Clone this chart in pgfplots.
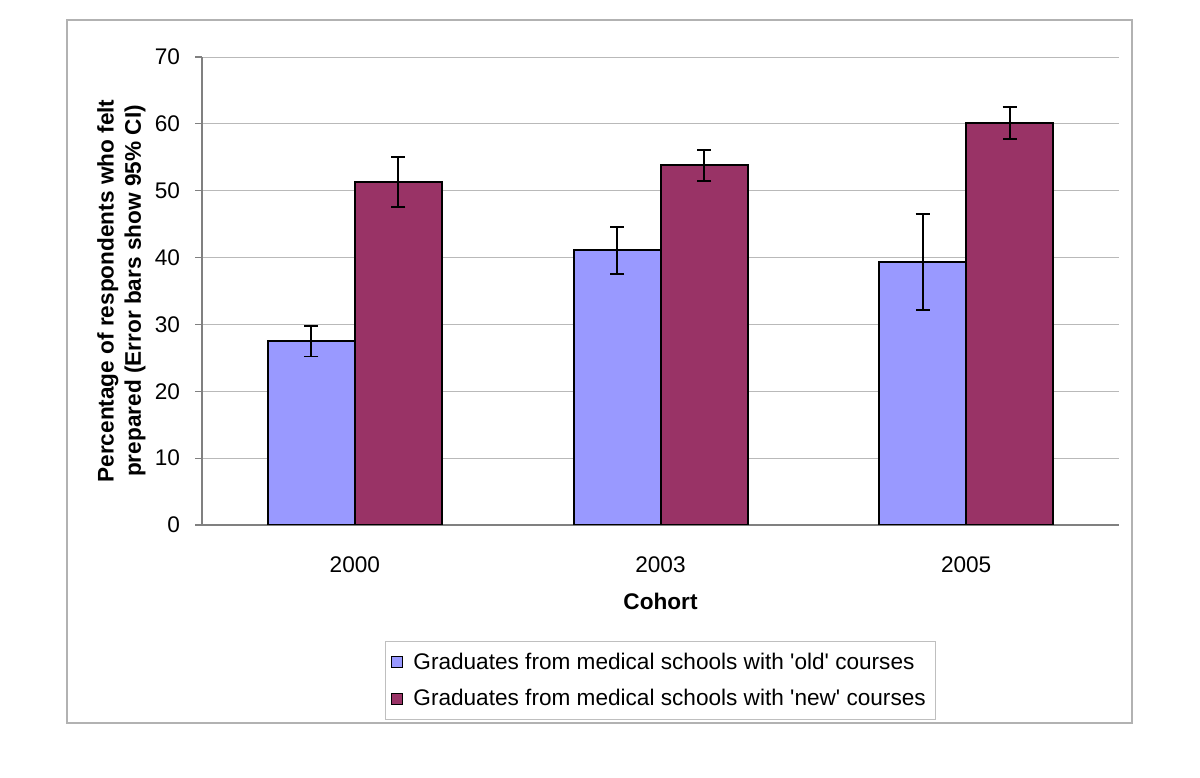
\documentclass[border=0pt]{standalone}
\usepackage{pgfplots}
\pgfplotsset{compat=1.18}
\usepackage{fontspec}
\setmainfont{Liberation Sans}
\definecolor{oldc}{HTML}{9999FF}
\definecolor{newc}{HTML}{993366}
\newcommand\fs{\fontsize{11.3}{13.6}\selectfont}
\begin{document}
\begin{tikzpicture}
\path[use as bounding box, fill=white] (0,0) rectangle (600pt,388.5pt);
\draw[gray!60, line width=0.6pt] (33.5pt,27pt) rectangle (566pt,378.5pt);
\begin{axis}[
  at={(101pt,126pt)}, anchor=south west,
  scale only axis, width=458.5pt, height=234pt,
  ybar=0pt, bar width=43.5pt,
  xmin=-0.5, xmax=2.5, ymin=0, ymax=70,
  ytick={0,10,...,70},
  xtick={0,1,2}, xticklabels={2000,2003,2005},
  major x tick style={draw=none},
  extra x ticks={-0.5,0.5,1.5,2.5}, extra x tick labels={},
  extra x tick style={major tick length=3.5pt, tick align=outside, tick style={gray, line width=0.6pt}, grid=none},
  axis lines*=left,
  axis line style={gray, line width=0.6pt, -},
  ymajorgrids, grid style={gray!55, line width=0.5pt},
  y tick style={gray, line width=0.6pt},
  tick align=outside, major tick length=3.5pt,
  /pgf/number format/assume math mode=true,
  tick label style={font=\fs},
  yticklabel style={xshift=-4pt},
  xticklabel style={anchor=base, yshift=-20pt},
  xlabel={Cohort},
  xlabel style={font=\fs\bfseries, at={(axis description cs:0.5,0)}, anchor=center, yshift=-38pt},
  ylabel={Percentage of respondents who felt\\prepared (Error bars show 95\% CI)},
  ylabel style={font=\fs\bfseries, align=center, at={(axis description cs:-0.088,0.5)}, anchor=center},
  legend style={at={(0.5,-0.248)}, anchor=north, draw=gray!50, line width=0.6pt, font=\fs,
    inner xsep=3pt, inner ysep=3.5pt, row sep=4.5pt, /tikz/every odd column/.append style={column sep=3pt}},
  legend cell align=left,
  legend image code/.code={\draw[#1, draw=black, line width=0.6pt] (0pt,-2.75pt) rectangle (5.5pt,2.75pt);},
  error bars/error mark options={rotate=90, mark size=3.5pt, line width=0.9pt, black},
  error bars/error bar style={line width=0.9pt, black},
]
\addplot[fill=oldc, draw=black, line width=1pt,
  error bars/.cd, y dir=both, y explicit]
  coordinates {(0,27.5) +- (0,2.3) (1,41.1) +- (0,3.5) (2,39.3) +- (0,7.2)};
\addplot[fill=newc, draw=black, line width=1pt,
  error bars/.cd, y dir=both, y explicit]
  coordinates {(0,51.3) +- (0,3.7) (1,53.8) +- (0,2.3) (2,60.1) +- (0,2.4)};
\legend{Graduates from medical schools with \textquotesingle old\textquotesingle\ courses, Graduates from medical schools with \textquotesingle new\textquotesingle\ courses}
\end{axis}
\end{tikzpicture}
\end{document}
